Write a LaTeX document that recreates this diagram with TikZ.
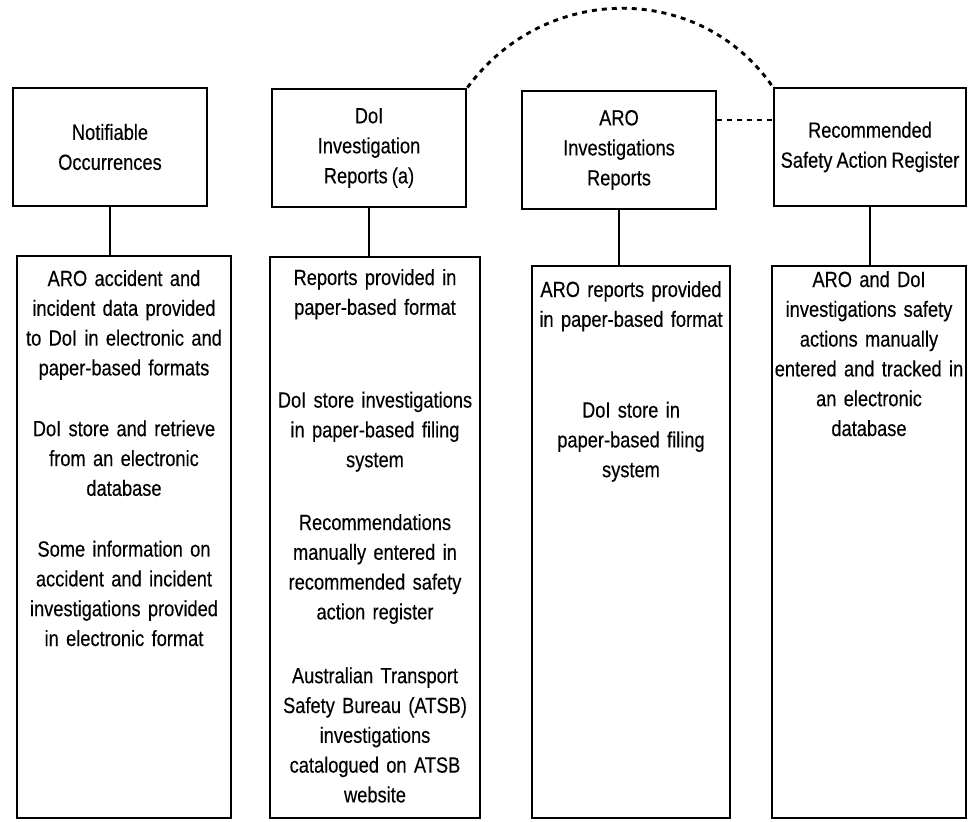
\documentclass[tikz,border=0pt]{standalone}
\usepackage{fontspec}
\setmainfont{Liberation Sans}[FakeStretch=0.83, WordSpace=0.8, FakeBold=0.3]
\begin{document}
\begin{tikzpicture}[x=1pt,y=-1pt,
  box/.style={draw, line width=2.9pt, rectangle, inner sep=0pt},
  topbox/.style={box, minimum width=194pt, minimum height=118pt, align=center, font=\fontsize{22}{30}\selectfont},
  lowbox/.style={box},
  txt/.style={anchor=base, align=center, text width=214pt, inner sep=0pt, font=\fontsize{22}{29.8}\selectfont},
  link/.style={line width=2.9pt},
  dotline/.style={line width=2.9pt, dash pattern=on 5pt off 5pt}]
\useasboundingbox (0,0) rectangle (968,821);

% top boxes
\node[topbox] (n1) at (110,147) {Notifiable\\Occurrences};
\node[topbox] (n2) at (369,148) {DoI\\Investigation\\Reports (a)};
\node[topbox] (n3) at (619,150) {ARO\\Investigations\\Reports};
\node[topbox, minimum width=192pt] (n4) at (870,147) {Recommended\\Safety Action Register};

% bottom boxes
\node[lowbox, minimum width=214pt, minimum height=562pt] (b1) at (124,537) {};
\node[lowbox, minimum width=210pt, minimum height=561pt] (b2) at (375,537.5) {};
\node[lowbox, minimum width=198pt, minimum height=552pt] (b3) at (631,542) {};
\node[lowbox, minimum width=194pt, minimum height=552pt] (b4) at (869,542) {};

% texts
\node[txt] (t1) at (124,286) {ARO accident and\\incident data provided\\to DoI in electronic and\\paper-based formats\\[31pt]DoI store and retrieve\\from an electronic\\database\\[31pt]Some information on\\accident and incident\\investigations provided\\in electronic format};
\node[txt] (t2) at (375,285) {Reports provided in\\paper-based format\\[63pt]DoI store investigations\\in paper-based filing\\system\\[33pt]Recommendations\\manually entered in\\recommended safety\\action register\\[34pt]Australian Transport\\Safety Bureau (ATSB)\\investigations\\catalogued on ATSB\\website};
\node[txt] (t3) at (631,297) {ARO reports provided\\in paper-based format\\[61pt]DoI store in\\paper-based filing\\system};
\node[txt] (t4) at (869,287) {ARO and DoI\\investigations safety\\actions manually\\entered and tracked in\\an electronic\\database};

% connectors
\draw[link] (n1.south) -- (n1.south |- b1.north);
\draw[link] (n2.south) -- (n2.south |- b2.north);
\draw[link] (n3.south) -- (n3.south |- b3.north);
\draw[link] (n4.south) -- (n4.south |- b4.north);

% dashed links
\coordinate (d1) at ([yshift=30pt]n3.east);
\draw[dotline] (d1) -- (d1 -| n4.west);
\draw[dotline] (n2.north east) .. controls (545,-18) and (700,-18) .. (n4.north west);
\end{tikzpicture}
\end{document}
